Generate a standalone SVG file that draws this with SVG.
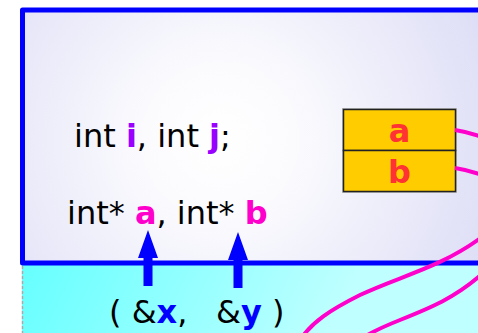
<svg xmlns="http://www.w3.org/2000/svg" width="478" height="333" viewBox="0 0 478 333">
<defs>
<radialGradient id="lav" cx="220" cy="140" r="300" gradientUnits="userSpaceOnUse">
<stop offset="0" stop-color="#ffffff"/>
<stop offset="0.25" stop-color="#fbfbfe"/>
<stop offset="1" stop-color="#dcdcf6"/>
</radialGradient>
<linearGradient id="cy" x1="22" y1="263" x2="300" y2="400" gradientUnits="userSpaceOnUse">
<stop offset="0" stop-color="#66ffff"/>
<stop offset="1" stop-color="#c0ffff"/>
</linearGradient>
</defs>
<style>
.t{font-family:"DejaVu Sans",sans-serif;font-size:32px;fill:#000}
.b{font-weight:bold}
.pu{fill:#9900ff}
.mg{fill:#ff00cc}
.bl{fill:#0000ff}
.cell{fill:#ffcc00;stroke:#222;stroke-width:1.5}
.ct{font-family:"DejaVu Sans",sans-serif;font-size:32px;font-weight:bold;fill:#ff3333;text-anchor:middle}
.link{fill:none;stroke:#ff00cc;stroke-width:4}
</style>
<g id="caller">
<rect x="22" y="263" width="470" height="80" fill="url(#cy)"/>
<line x1="22.5" y1="266" x2="22.5" y2="333" stroke="#aaaaaa" stroke-width="1.5" stroke-dasharray="3,2"/>
<text class="t" x="109" y="323" xml:space="preserve">( &amp;<tspan class="b bl">x</tspan>,</text>
<text class="t" x="216" y="323" xml:space="preserve">&amp;<tspan class="b bl">y</tspan> )</text>
</g>
<g id="function">
<rect x="22.5" y="10" width="480" height="253" fill="url(#lav)" stroke="#0000ff" stroke-width="5" stroke-linejoin="round"/>
<text class="t" x="74" y="147">int <tspan class="b pu">i</tspan>, int <tspan class="b pu">j</tspan>;</text>
<text class="t" x="67" y="224">int* <tspan class="b mg">a</tspan>, int* <tspan class="b mg">b</tspan></text>
</g>
<g id="params">
<rect x="342.5" y="108.5" width="114" height="84" fill="none" stroke="#bbbbbb" stroke-width="1"/>
<rect class="cell" x="343.5" y="109.5" width="112" height="41"/>
<rect class="cell" x="343.5" y="150.5" width="112" height="41"/>
<text class="ct" x="399.5" y="141.5">a</text>
<text class="ct" x="399.5" y="182.5">b</text>
</g>
<g id="connectors">
<path class="link" d="M455,130 Q468,132 482,137"/>
<path class="link" d="M455,168 Q468,170 482,175"/>
<path class="link" d="M482,237 C440,268 400,276 360,295 C330,310 312,322 300,340"/>
<path class="link" d="M482,274 C455,298 430,308 400,320 C385,326 370,332 360,340"/>
<path fill="#0000ff" d="M148,230 L158,258 L152.5,258 L152.5,286 L143.5,286 L143.5,258 L138,258 Z"/>
<path fill="#0000ff" d="M238,232 L248,260 L242.5,260 L242.5,288 L233.5,288 L233.5,260 L228,260 Z"/>
</g>
</svg>
